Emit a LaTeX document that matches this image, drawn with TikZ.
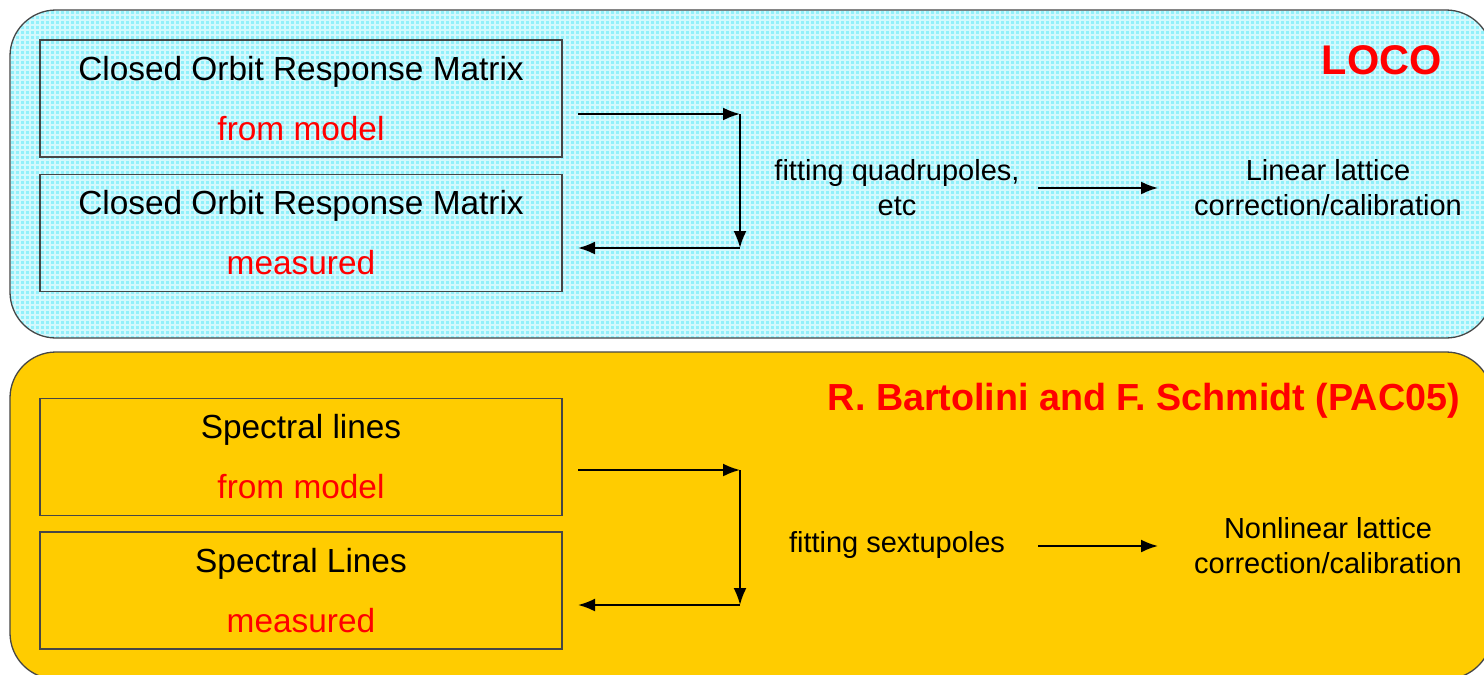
\documentclass[tikz,border=0pt]{standalone}
\usepackage{fontspec}
\setmainfont{Liberation Sans}
\usetikzlibrary{arrows.meta}
\definecolor{panelcyan}{RGB}{145,240,250}
\definecolor{panelgold}{RGB}{255,204,0}
\definecolor{edgegray}{RGB}{70,70,70}
\definecolor{txtred}{RGB}{255,0,0}
\tikzset{
  panel/.style={draw=edgegray, line width=1.3pt, rounded corners=46pt},
  mbox/.style={draw=edgegray, line width=1.3pt, minimum width=522pt, minimum height=117pt,
    inner sep=0pt, align=center, font=\fontsize{33.4}{60}\selectfont},
  lbl/.style={align=center, font=\fontsize{29}{35}\selectfont, inner sep=0pt},
  title/.style={text=txtred, inner sep=0pt},
  conn/.style={line width=2pt, -{Latex[length=17pt,width=13pt]}},
}
\begin{document}
\begin{tikzpicture}[x=1pt,y=-1pt]
\useasboundingbox (0,0) rectangle (1484,675);
\fill[white] (0,0) rectangle (1484,675);
\begin{scope}
\clip (0,0) rectangle (1484,675);
\fill[panelcyan, rounded corners=46pt] (10,10) rectangle (1492,338);
\begin{scope}
\clip[rounded corners=46pt] (10,10) rectangle (1492,338);
\draw[white, opacity=0.6, line width=1.3pt] (10,10) grid[step=5pt] (1492,338);
\end{scope}
\draw[panel] (10,10) rectangle (1492,338);
\draw[panel, fill=panelgold] (10,352) rectangle (1492,679);
\end{scope}

% top panel
\node[title, font=\bfseries\fontsize{41.5}{46}\selectfont, anchor=east] (loco) at (1442,60) {LOCO};
\node[mbox] (b1) at (301,98.5) {Closed Orbit Response Matrix\\\textcolor{txtred}{from model}};
\node[mbox] (b2) at (301,233) {Closed Orbit Response Matrix\\\textcolor{txtred}{measured}};
\coordinate (t1) at (578,114);
\coordinate (t2) at (740,114);
\coordinate (t3) at (740,248);
\coordinate (t4) at (578,248);
\draw[conn] (t1) -- (t2);
\draw[conn] (t2) -- (t3);
\draw[conn] (t3) -- (t4);
\node[lbl] (fq) at (897,188) {fitting quadrupoles,\\etc};
\node[lbl] (ll) at (1328,188) {Linear lattice\\correction/calibration};
\coordinate (m1) at (1038,188);
\coordinate (m2) at (1158,188);
\draw[conn] (m1) -- (m2);

% bottom panel
\node[title, font=\bfseries\fontsize{37.7}{42}\selectfont, anchor=east] (bs) at (1460,401) {R. Bartolini and F. Schmidt (PAC05)};
\node[mbox] (b3) at (301,457) {Spectral lines\\\textcolor{txtred}{from model}};
\node[mbox] (b4) at (301,590.5) {Spectral Lines\\\textcolor{txtred}{measured}};
\coordinate (s1) at (578,470);
\coordinate (s2) at (740,470);
\coordinate (s3) at (740,605);
\coordinate (s4) at (578,605);
\draw[conn] (s1) -- (s2);
\draw[conn] (s2) -- (s3);
\draw[conn] (s3) -- (s4);
\node[lbl] (fs) at (897,545) {fitting sextupoles};
\node[lbl] (nl) at (1328,546) {Nonlinear lattice\\correction/calibration};
\coordinate (n1) at (1038,546);
\coordinate (n2) at (1158,546);
\draw[conn] (n1) -- (n2);
\end{tikzpicture}
\end{document}
